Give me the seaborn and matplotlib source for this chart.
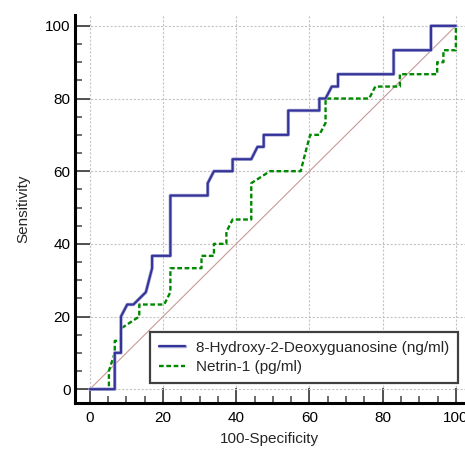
import pandas as pd
import numpy as np
import seaborn as sns
import matplotlib.pyplot as plt
import matplotlib.patheffects as pe
from matplotlib.ticker import MultipleLocator

# ROC points (100-Specificity, Sensitivity)
ohdg_fpr = [0, 6.8, 6.8, 8.5, 8.5, 10.2, 11.9, 15.3, 17.0, 17.0, 22.0, 22.0, 32.2, 32.2,
            33.9, 39.0, 39.0, 44.1, 45.8, 47.5, 47.5, 54.2, 54.2, 62.7, 62.7, 64.4, 66.1,
            67.8, 67.8, 83.0, 83.0, 93.2, 93.2, 100]
ohdg_tpr = [0, 0, 10.0, 10.0, 20.0, 23.3, 23.3, 26.7, 33.3, 36.7, 36.7, 53.3, 53.3, 56.7,
            60.0, 60.0, 63.3, 63.3, 66.7, 66.7, 70.0, 70.0, 76.7, 76.7, 80.0, 80.0, 83.3,
            83.3, 86.7, 86.7, 93.3, 93.3, 100, 100]

netrin_fpr = [0, 5.2, 5.2, 6.8, 6.8, 8.5, 8.5, 13.5, 13.5, 20.3, 22.0, 22.0, 30.5, 30.5,
              33.9, 33.9, 37.3, 37.3, 39.0, 44.1, 44.1, 49.2, 57.6, 59.3, 60.2, 62.7, 64.4,
              64.4, 76.3, 78.0, 84.7, 84.7, 94.9, 94.9, 96.6, 96.6, 100, 100]
netrin_tpr = [0, 0, 5.0, 10.0, 13.3, 13.3, 16.7, 20.0, 23.3, 23.3, 26.7, 33.3, 33.3, 36.7,
              36.7, 40.0, 40.0, 43.3, 46.7, 46.7, 56.7, 60.0, 60.0, 66.7, 70.0, 70.0, 73.3,
              80.0, 80.0, 83.3, 83.3, 86.7, 86.7, 90.0, 90.0, 93.3, 93.3, 100]

labels = ['8-Hydroxy-2-Deoxyguanosine (ng/ml)', 'Netrin-1 (pg/ml)']

sns.set_theme(style='white')
plt.rcParams['font.family'] = ['Liberation Sans', 'DejaVu Sans']

fig = plt.figure(figsize=(4.65, 4.54), dpi=100)
ax = fig.add_axes([0.161, 0.112, 0.839, 0.855])

df1 = pd.DataFrame({'x': ohdg_fpr, 'y': ohdg_tpr})
df2 = pd.DataFrame({'x': netrin_fpr, 'y': netrin_tpr})

# reference diagonal
ax.plot([0, 100], [0, 100], color='#c89a9a', lw=0.8, zorder=2)

sns.lineplot(data=df1, x='x', y='y', sort=False, estimator=None, ax=ax,
             color='#333399', lw=1.5, label=labels[0], zorder=4,
             path_effects=[pe.Stroke(linewidth=2.5, foreground='#a8a8d4'), pe.Normal()])
sns.lineplot(data=df2, x='x', y='y', sort=False, estimator=None, ax=ax,
             color='#008800', lw=1.7, dashes=(2, 1.1), label=labels[1], zorder=3)

ax.set_xlim(-4.1, 102.5)
ax.set_ylim(-3.85, 103)
ax.xaxis.set_major_locator(MultipleLocator(20))
ax.yaxis.set_major_locator(MultipleLocator(20))
ax.xaxis.set_minor_locator(MultipleLocator(5))
ax.yaxis.set_minor_locator(MultipleLocator(5))

ax.grid(True, which='major', color='#c4c4c4', lw=0.8, linestyle=(0, (2, 1.5)))
ax.set_axisbelow(True)

for s in ['top', 'right']:
    ax.spines[s].set_visible(False)
for s in ['left', 'bottom']:
    ax.spines[s].set_linewidth(2.2)
    ax.spines[s].set_color('black')

ax.tick_params(which='major', direction='in', length=10.5, width=1.3, color='#444444',
               labelsize=11, labelcolor='black')
ax.tick_params(which='minor', direction='in', length=5, width=1.1, color='#444444')
ax.tick_params(axis='x', which='both', bottom=True, pad=6)
ax.tick_params(axis='y', which='both', left=True, pad=3)

ax.set_xlabel('100-Specificity', fontsize=11, labelpad=5)
ax.set_ylabel('Sensitivity', fontsize=11, labelpad=11)

leg = ax.legend(loc='lower right', bbox_to_anchor=(0.982, 0.051), borderaxespad=0,
                fancybox=False, frameon=True, fontsize=11, handlelength=1.7,
                handletextpad=0.7, borderpad=0.6, labelspacing=0.35)
leg.get_frame().set_edgecolor('#404040')
leg.get_frame().set_linewidth(1.6)
leg.get_frame().set_facecolor('white')
leg.get_frame().set_alpha(1)

fig.savefig('out.png', dpi=100)
